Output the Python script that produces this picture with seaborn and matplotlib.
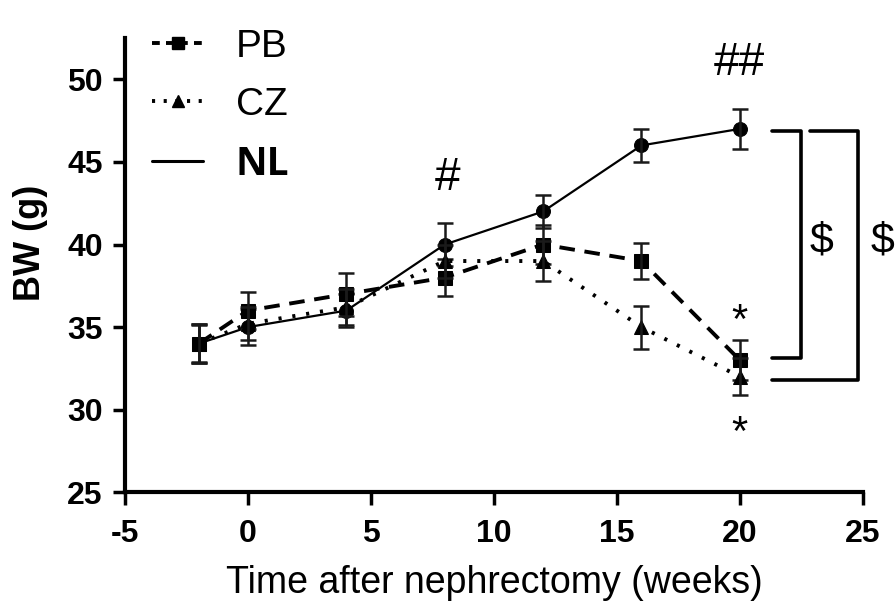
import matplotlib
matplotlib.use("Agg")
import matplotlib.pyplot as plt
import numpy as np
import pandas as pd
import seaborn as sns
from matplotlib.lines import Line2D

weeks = [-2, 0, 4, 8, 12, 16, 20]
pb_bw = [34, 36, 37, 38, 40, 39, 33]
pb_err = [1.2, 1.1, 1.3, 1.1, 1.2, 1.1, 1.2]
cz_bw = [34, 35.2, 36.2, 39, 39, 35, 32]
cz_err = [1.1, 1.0, 1.1, 1.0, 1.2, 1.3, 1.1]
nl_bw = [34, 35, 36, 40, 42, 46, 47]
nl_err = [1.2, 1.1, 1.0, 1.3, 1.0, 1.0, 1.2]

df = pd.DataFrame({"week": weeks * 3,
                   "bw": pb_bw + cz_bw + nl_bw,
                   "group": ["PB"] * 7 + ["CZ"] * 7 + ["NL"] * 7})

sns.set_theme(style="ticks")
plt.rcParams["font.family"] = ["Liberation Sans", "DejaVu Sans"]
plt.rcParams["text.color"] = "black"
plt.rcParams["axes.labelcolor"] = "black"
plt.rcParams["xtick.color"] = "black"
plt.rcParams["ytick.color"] = "black"
plt.rcParams["axes.edgecolor"] = "black"
plt.rcParams["axes.unicode_minus"] = False

fig = plt.figure(figsize=(8.96, 6.04), dpi=100)
ax = fig.add_axes([0.1395, 0.185, 0.8235, 0.752])

styles = {
    "NL": dict(ls="-", marker="o", lw=1.6, ms=10, err=nl_err, vals=nl_bw),
    "PB": dict(ls=(0, (4, 2.5)), marker="s", lw=2.8, ms=9.5, err=pb_err, vals=pb_bw),
    "CZ": dict(ls=(0, (0.8, 2.8)), marker="^", lw=2.8, ms=9.5, err=cz_err, vals=cz_bw),
}

for g in ["NL", "PB", "CZ"]:
    st = styles[g]
    sub = df[df["group"] == g]
    sns.lineplot(data=sub, x="week", y="bw", ax=ax, color="black",
                 linestyle=st["ls"], linewidth=st["lw"], marker=st["marker"],
                 markersize=st["ms"], markeredgecolor="black", legend=False,
                 errorbar=None)
    ax.errorbar(weeks, st["vals"], yerr=st["err"], fmt="none", ecolor="#1a1a1a",
                elinewidth=1.8, capsize=6, capthick=1.8)

ax.set_xlim(-5, 25)
ax.set_ylim(25, 52.5)
ax.set_xticks([-5, 0, 5, 10, 15, 20, 25])
ax.set_yticks([25, 30, 35, 40, 45, 50])
ax.tick_params(axis="both", labelsize=23, width=2.5, length=9, direction="out")
ax.tick_params(axis="x", pad=10)
ax.tick_params(axis="y", pad=7)
for lab in ax.get_xticklabels() + ax.get_yticklabels():
    lab.set_fontweight("bold")
for s in ["left", "bottom"]:
    ax.spines[s].set_linewidth(3)
sns.despine(ax=ax)

ax.set_xlabel("Time after nephrectomy (weeks)", fontsize=27, labelpad=12)
ax.set_ylabel("BW (g)", fontsize=26, fontweight="bold")
ax.yaxis.set_label_coords(-0.105, 0.55)

# significance marks
ax.text(8.1, 44.0, "#", fontsize=33, ha="center", va="center")
ax.text(20, 51.0, "##", fontsize=33, ha="center", va="center")
ax.text(20, 35.3, "*", fontsize=30, ha="center", va="center")
ax.text(20, 28.5, "*", fontsize=30, ha="center", va="center")

ax.plot([21.3, 22.5, 22.5, 21.3], [46.9, 46.9, 33.1, 33.1], color="black",
        lw=2.6, clip_on=False)
ax.plot([22.85, 24.8, 24.8, 21.3], [46.9, 46.9, 31.8, 31.8], color="black",
        lw=2.6, clip_on=False)
ax.text(23.33, 40.2, "$", fontsize=31, ha="center", va="center")
ax.text(25.8, 40.2, "$", fontsize=31, ha="center", va="center", clip_on=False)

handles = [
    Line2D([], [], color="black", ls=(0, (2, 1.6)), lw=2.8, marker="s", ms=9),
    Line2D([], [], color="black", ls=(0, (0.8, 2.2)), lw=2.8, marker="^", ms=9),
    Line2D([], [], color="black", ls="-", lw=2.2),
]
leg = ax.legend(handles, ["PB", "CZ", "NL"], loc="upper left",
                bbox_to_anchor=(0.037, 1.02), frameon=False, fontsize=28,
                borderpad=0, borderaxespad=0,
                handlelength=1.3, handletextpad=0.85, labelspacing=0.56)
nl = leg.get_texts()[2]
nl.set_fontweight("bold")
nl.set_family(["Open Sans", "DejaVu Sans"])

fig.savefig("out.png", dpi=100)
